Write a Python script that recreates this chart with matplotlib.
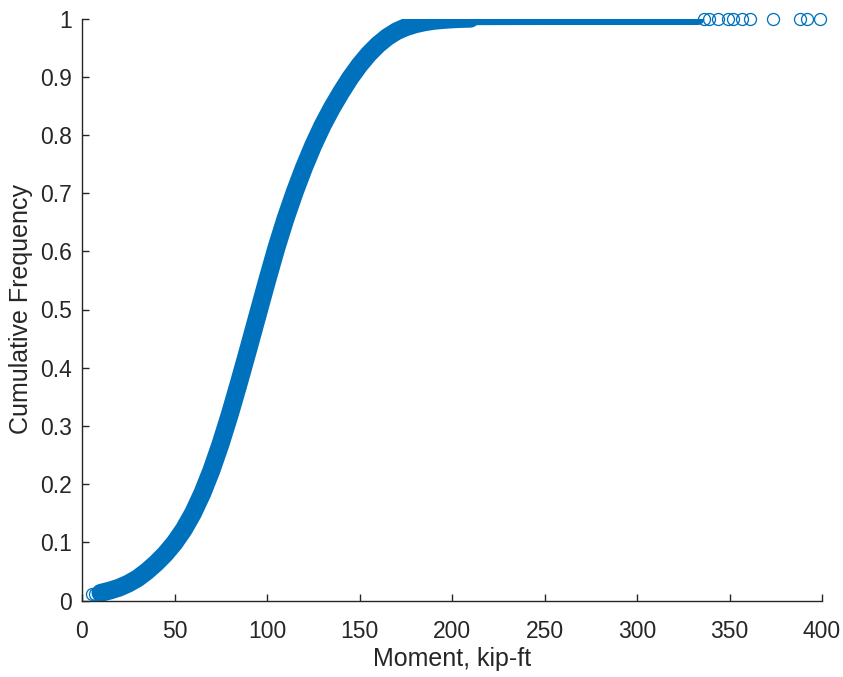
import matplotlib
matplotlib.use("Agg")
import matplotlib.pyplot as plt

# ---- data ----
start_x = [5.5, 7.0, 9.0]
start_y = [0.012, 0.012, 0.013]

curve_x = [10, 15, 20, 25, 30, 35, 40, 45, 50, 55, 60, 65, 70, 75, 80, 85, 90, 95,
           100, 105, 110, 115, 120, 125, 130, 135, 140, 145, 150, 155, 160, 165,
           170, 175, 180, 185, 190, 195, 200, 205, 210]
curve_y = [0.013, 0.017, 0.022, 0.029, 0.038, 0.050, 0.064, 0.080, 0.099, 0.122,
           0.150, 0.184, 0.224, 0.270, 0.321, 0.376, 0.433, 0.491, 0.549, 0.605,
           0.656, 0.702, 0.744, 0.782, 0.816, 0.846, 0.873, 0.898, 0.920, 0.939,
           0.955, 0.968, 0.978, 0.985, 0.990, 0.9935, 0.996, 0.9975, 0.9986, 0.9993,
           0.9997]

plateau_x = [210, 250, 300, 333]
plateau_y = [0.9997, 1.0, 1.0, 1.0]

tail_x = [336, 339, 344, 349, 352, 357, 361, 373.5, 388, 392, 399]
tail_y = [1.0] * len(tail_x)

x_ticks = [0, 50, 100, 150, 200, 250, 300, 350, 400]
y_ticks = [0, 0.1, 0.2, 0.3, 0.4, 0.5, 0.6, 0.7, 0.8, 0.9, 1]
y_tick_labels = ["0", "0.1", "0.2", "0.3", "0.4", "0.5", "0.6", "0.7", "0.8", "0.9", "1"]
x_label = "Moment, kip-ft"
y_label = "Cumulative Frequency"

# ---- style ----
blue = "#0072BD"
txt = "#262626"
plt.rcParams["font.family"] = ["Liberation Sans", "DejaVu Sans"]

fig = plt.figure(figsize=(8.43, 6.77), dpi=100)
ax = fig.add_axes([82 / 843, (677 - 600.5) / 677, 740 / 843, 582 / 677])

px = 72 / 100  # points per pixel
ax.plot(curve_x, curve_y, color=blue, lw=18 * px, solid_capstyle="round",
        solid_joinstyle="round", zorder=2)
ax.plot(plateau_x, plateau_y, color=blue, lw=13 * px, solid_capstyle="round", zorder=2)
ax.plot(start_x, start_y, ls="none", marker="o", ms=12 * px, mfc="none", mec=blue,
        mew=1.3 * px, zorder=3, clip_on=False)
ax.plot(tail_x, tail_y, ls="none", marker="o", ms=12 * px, mfc="none", mec=blue,
        mew=1.3 * px, zorder=3, clip_on=False)

ax.set_xlim(0, 400)
ax.set_ylim(0, 1)
ax.set_xticks(x_ticks)
ax.set_yticks(y_ticks)
ax.set_yticklabels(y_tick_labels)

for s in ["top", "right"]:
    ax.spines[s].set_visible(False)
for s in ["left", "bottom"]:
    ax.spines[s].set_color(txt)
    ax.spines[s].set_linewidth(1.0)

ax.tick_params(direction="in", length=5, width=1.0, color=txt, labelcolor=txt,
               labelsize=16.5)
ax.tick_params(axis="x", pad=14)
ax.tick_params(axis="y", pad=7.5)
ax.set_xlabel(x_label, fontsize=18, color=txt, labelpad=3)
ax.set_ylabel(y_label, fontsize=18, color=txt, labelpad=5)

fig.savefig("out.png", dpi=100, facecolor="white")
